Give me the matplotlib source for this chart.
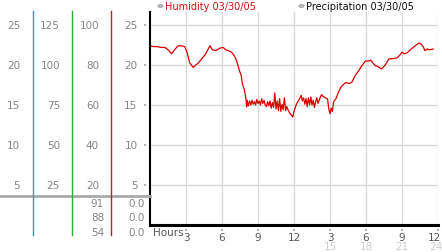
import matplotlib
matplotlib.use("Agg")
import matplotlib.pyplot as plt

W, H = 442, 253

# humidity (%) by hour of day
hours = [0, 0.3, 0.6, 0.9, 1.24, 1.5, 1.8, 2.1, 2.35, 2.6, 2.9, 3.1, 3.3, 3.6, 3.8,
         4.0, 4.3, 4.6, 5.0, 5.2, 5.5, 5.8, 6.1, 6.3, 6.5, 6.8, 7.0, 7.15, 7.3, 7.45,
         7.6, 7.7, 7.85, 8.0, 8.05,
         8.1, 8.2, 8.3, 8.4, 8.5, 8.6, 8.7, 8.8, 8.9, 9.0, 9.1, 9.2, 9.3, 9.4, 9.5,
         9.6, 9.7, 9.8, 9.9, 10.0, 10.1, 10.2, 10.3, 10.4, 10.5, 10.6, 10.7, 10.8,
         10.9, 11.0, 11.1, 11.2, 11.3, 11.4, 11.5, 11.6, 11.7, 11.8, 11.9, 12.0,
         12.2, 12.4, 12.6, 12.7, 12.8, 12.9, 13.0, 13.1, 13.2, 13.3, 13.4, 13.5,
         13.6, 13.7, 13.8, 13.9, 14.0, 14.1, 14.2, 14.3, 14.4, 14.6, 14.8, 14.9,
         15.0, 15.1, 15.2, 15.3, 15.5, 15.7, 15.9, 16.0, 16.3, 16.6, 16.8, 17.0,
         17.2, 17.4, 17.6, 17.8, 17.95, 18.2, 18.4, 18.6, 18.8, 19.0, 19.3, 19.6,
         19.9, 20.2, 20.6, 20.8, 21.0, 21.2, 21.4, 21.7, 22.0, 22.2, 22.4, 22.6,
         22.8, 22.9, 23.1, 23.3, 23.6]
humidity = [89.6, 89.2, 89.2, 88.8, 88.8, 87.6, 85.6, 88.0, 89.6, 89.6, 89.2, 86.0,
            81.2, 78.8, 80.0, 80.8, 83.0, 85.2, 89.6, 87.6, 87.2, 88.4, 88.8, 87.6,
            87.2, 86.4, 84.8, 83.2, 80.4, 77.2, 74.8, 70.4, 68.0, 63.0, 59.0,
            62.4, 59.6, 62.0, 60.0, 62.4, 60.4, 61.6, 60.0, 62.8, 60.8, 62.0, 60.0,
            63.2, 60.8, 62.4, 60.0, 59.2, 61.6, 59.6, 62.0, 58.4, 61.2, 58.8, 66.0,
            58.0, 62.0, 57.2, 63.2, 56.8, 60.4, 57.6, 63.6, 57.2, 59.2, 57.6, 56.4,
            55.6, 54.8, 54.0, 56.8, 60.4, 62.4, 64.8, 62.0, 63.6, 60.4, 63.2, 59.2,
            63.6, 60.0, 64.0, 60.0, 62.4, 58.8, 61.6, 63.6, 60.8, 62.4, 64.0, 65.2,
            64.4, 63.6, 63.0, 58.0, 55.6, 58.4, 56.8, 61.6, 63.2, 66.4, 68.8, 69.6,
            71.2, 70.8, 71.2, 73.6, 75.6, 77.2, 79.2, 80.8, 82.0, 82.0, 82.4, 80.8,
            79.6, 79.2, 78.0, 80.0, 83.0, 83.2, 83.6, 84.8, 86.4, 85.6, 86.0, 87.6,
            89.2, 90.0, 91.0, 90.4, 88.8, 87.2, 88.0, 87.6, 88.0]

scale_a = [25, 20, 15, 10, 5]
scale_b = [125, 100, 75, 50, 25]
scale_c = [100, 80, 60, 40, 20]
hum_stats = [91, 88, 54]          # max, current, min
precip_stats = ["0.0", "0.0", "0.0"]
tick_hours = [3, 6, 9, 12, 15, 18, 21, 24]
tick_top = ["3", "6", "9", "12", "3", "6", "9", "12"]
tick_bottom = ["15", "18", "21", "24"]

GRAY = "#858585"
FS = 7.5


def fx(x):
    return x / W


def fy(y):
    return 1 - y / H


fig = plt.figure(figsize=(W / 100, H / 100), dpi=100)
fig.patch.set_facecolor("white")

# main plot
ax = fig.add_axes([fx(150), fy(226), 288 / W, 213 / H])
ax.set_xlim(0, 24)
ax.set_ylim(0, 106.5)
ax.set_xticks(tick_hours)
ax.set_yticks(scale_c)
ax.grid(True, color="#d9d9d9", lw=1)
ax.tick_params(length=0, labelbottom=False, labelleft=False)
for s in ["top", "right"]:
    ax.spines[s].set_visible(False)
ax.spines["left"].set_linewidth(1.5)
ax.spines["bottom"].set_linewidth(2.2)
ax.set_axisbelow(True)

ax.plot(hours, humidity, color="#d80000", lw=0.9)

# small gray tick squares
ax.plot([-0.42] * len(scale_c), scale_c, "s", ms=1.8, mew=0, color="#b5b5b5", clip_on=False)
tr = ax.get_xaxis_transform()
ax.plot(tick_hours, [-5 / 213] * len(tick_hours), "s", ms=1.8, mew=0, color="#b5b5b5",
        clip_on=False, transform=tr)
for i, (h, lab) in enumerate(zip(tick_hours, tick_top)):
    last = i == len(tick_hours) - 1
    ax.text(h - (0.3 if last else 0), -12.5 / 213, lab, transform=tr,
            ha="center", va="center", fontsize=FS, color="#555555")
for i, (h, lab) in enumerate(zip(tick_hours[4:], tick_bottom)):
    last = i == len(tick_bottom) - 1
    ax.text(h - (0.15 if last else 0), -21.5 / 213, lab, transform=tr,
            ha="center", va="center", fontsize=FS, color="#cccccc")
ax.text(0.25, -7.5 / 213, "Hours", transform=tr, ha="left", va="center",
        fontsize=FS, color="#555555")

# legend line at the top
fig.patches.append(plt.Circle((fx(160.5), fy(7)), 2.6 / W, transform=fig.transFigure,
                              facecolor="#bbbbbb", edgecolor="#999999", lw=0.5))
fig.text(fx(165), fy(7), "Humidity 03/30/05", color="#cc1111", fontsize=7,
         va="center", ha="left")
fig.patches.append(plt.Circle((fx(301.5), fy(7)), 2.6 / W, transform=fig.transFigure,
                              facecolor="#bbbbbb", edgecolor="#999999", lw=0.5))
fig.text(fx(306), fy(7), "Precipitation 03/30/05", color="#111111", fontsize=7,
         va="center", ha="left")

# left scale columns
for a, b, c in zip(scale_a, scale_b, scale_c):
    y = fy(226 - a * 8)
    fig.text(fx(20), y, str(a), ha="right", va="center", fontsize=FS, color=GRAY)
    fig.text(fx(60), y, str(b), ha="right", va="center", fontsize=FS, color=GRAY)
    fig.text(fx(99), y, str(c), ha="right", va="center", fontsize=FS, color=GRAY)
    fig.text(fx(137.5), y, str(a), ha="right", va="center", fontsize=FS, color=GRAY)

# separator and column dividers
fig.add_artist(plt.Line2D([0, fx(150)], [fy(196.5), fy(196.5)], color="#aaaaaa", lw=2))
for x, col in [(33.3, "#3399cc"), (72.3, "#33aa33"), (111.3, "#bb2222")]:
    fig.add_artist(plt.Line2D([fx(x), fx(x)], [fy(12), fy(236)], color=col, lw=1))

# summary rows
for i, (hv, pv) in enumerate(zip(hum_stats, precip_stats)):
    y = fy(204 + i * 14.3)
    fig.text(fx(104), y, str(hv), ha="right", va="center", fontsize=FS, color=GRAY)
    fig.text(fx(145), y, pv, ha="right", va="center", fontsize=FS, color=GRAY)

fig.savefig("out.png", dpi=100)
